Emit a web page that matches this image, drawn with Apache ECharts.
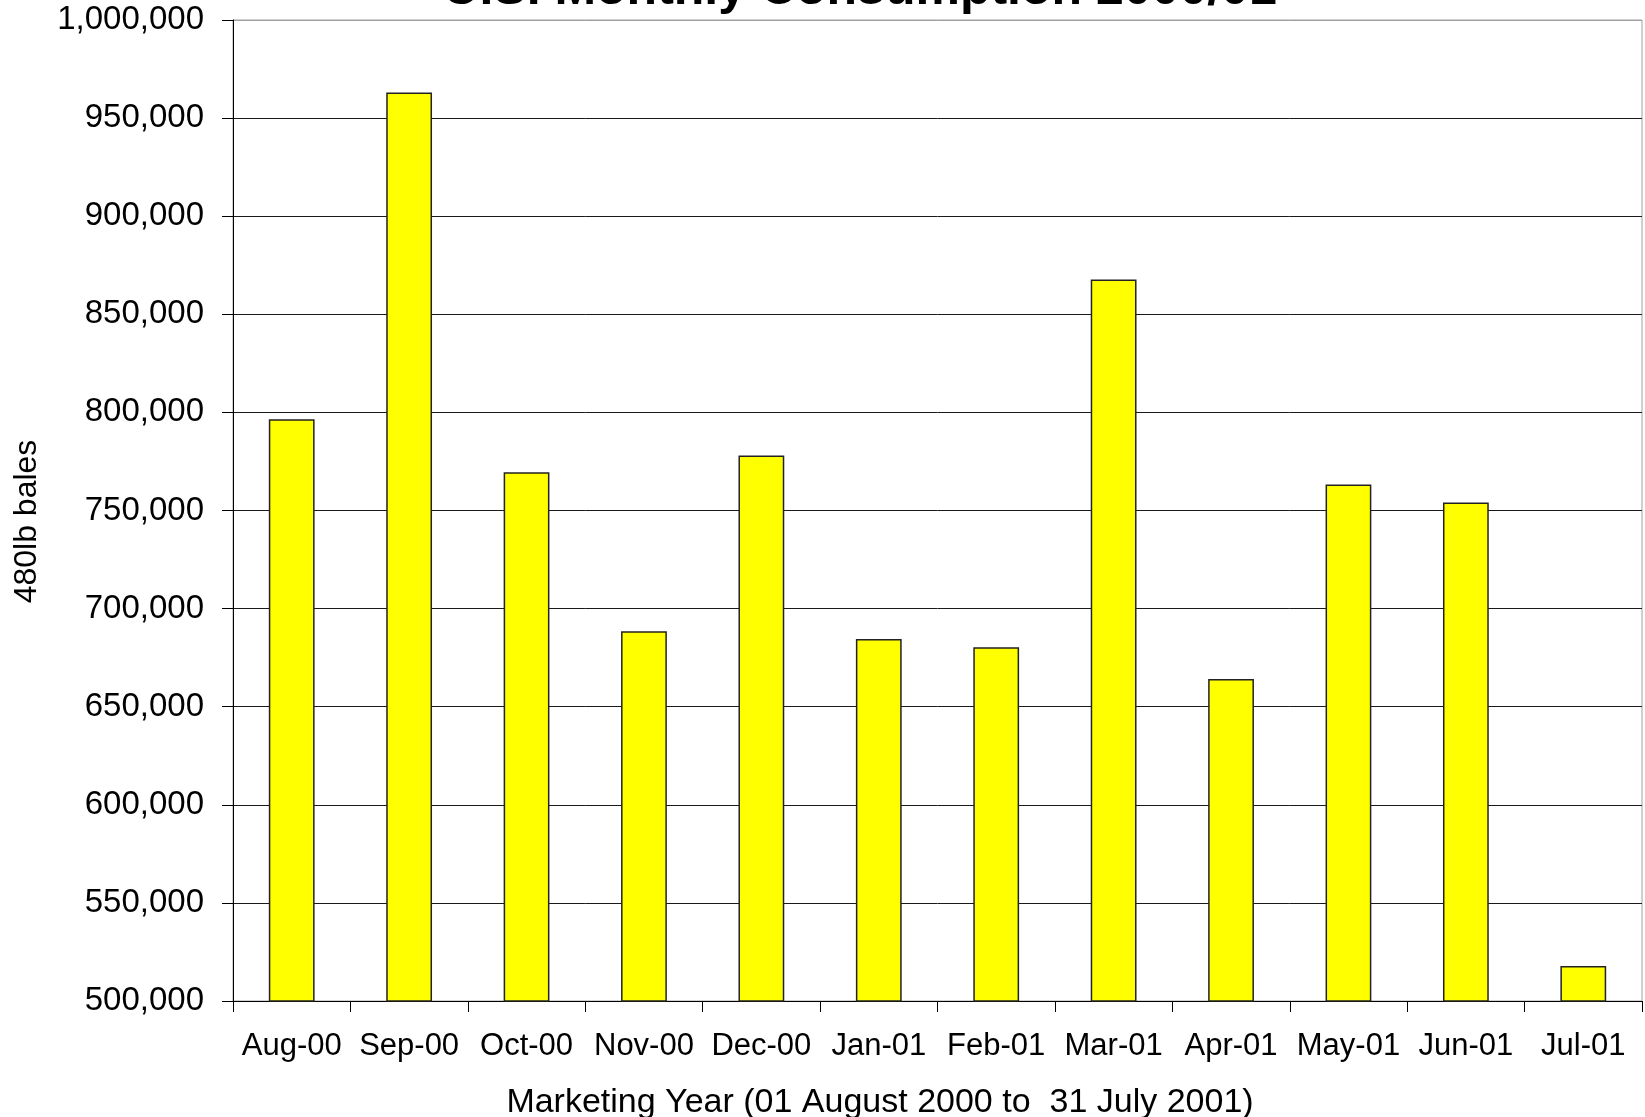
<!DOCTYPE html>
<html>
<head>
<meta charset="utf-8">
<script src="https://cdn.jsdelivr.net/npm/echarts@6/dist/echarts.min.js"></script>
<style>
html,body{margin:0;padding:0;background:#fff;}
#chart{width:1645px;height:1117px;}
</style>
</head>
<body>
<div id="chart"></div>
<script>
const chartTitle = 'U.S. Monthly Consumption 2000/01';
const categories = ['Aug-00','Sep-00','Oct-00','Nov-00','Dec-00','Jan-01','Feb-01','Mar-01','Apr-01','May-01','Jun-01','Jul-01'];
const consumption = [796500, 963000, 769500, 688500, 778000, 684500, 680300, 867700, 664100, 763200, 754100, 517800];
const yMin = 500000;
const yMax = 1000000;
const yStep = 50000;
const xTitle = 'Marketing Year (01 August 2000 to  31 July 2001)';
const yTitle = '480lb bales';

const font = 'Arial, "Liberation Sans", sans-serif';
const nLines = Math.round((yMax - yMin) / yStep) + 1;
const splitColors = [];
for (let i = 0; i < nLines; i++) splitColors.push(i === nLines - 1 ? '#a0a0a0' : '#1a1a1a');

const chart = echarts.init(document.getElementById('chart'), null, {renderer: 'canvas'});
chart.setOption({
  backgroundColor: '#ffffff',
  animation: false,
  title: [
    {
      text: chartTitle,
      left: 855, textAlign: 'center', top: -40,
      textStyle: {fontFamily: font, fontSize: 50, fontWeight: 'bold', color: '#000'}
    },
    {
      text: xTitle,
      left: 875, textAlign: 'center', top: 1081,
      textStyle: {fontFamily: font, fontSize: 34, fontWeight: 'normal', color: '#000'}
    }
  ],
  grid: {
    left: 233, right: 3, top: 20, bottom: 116,
    show: true, borderColor: '#a0a0a0', borderWidth: 1, backgroundColor: 'transparent'
  },
  xAxis: {
    type: 'category',
    data: categories,
    boundaryGap: true,
    axisLine: {show: true, lineStyle: {color: '#000', width: 1}},
    axisTick: {show: true, length: 11, alignWithLabel: false, lineStyle: {color: '#000'}},
    axisLabel: {margin: 30, color: '#000', fontFamily: font, fontSize: 31, interval: 0},
    splitLine: {show: false}
  },
  yAxis: {
    type: 'value',
    min: yMin, max: yMax, interval: yStep,
    name: yTitle,
    nameLocation: 'middle',
    nameGap: 190,
    nameTextStyle: {fontFamily: font, fontSize: 32, color: '#000', padding: [0, 22, 0, 0]},
    axisLine: {show: true, lineStyle: {color: '#000', width: 1}},
    axisTick: {show: true, length: 11, lineStyle: {color: '#000'}},
    axisLabel: {
      margin: 29, color: '#000', fontFamily: font, fontSize: 33,
      formatter: v => v.toLocaleString('en-US')
    },
    splitLine: {show: true, lineStyle: {color: splitColors, width: 1}}
  },
  series: [{
    type: 'bar',
    data: consumption,
    barCategoryGap: '61%',
    itemStyle: {color: '#ffff00', borderColor: '#222', borderWidth: 1.5},
    emphasis: {disabled: true}
  }]
});
</script>
</body>
</html>
